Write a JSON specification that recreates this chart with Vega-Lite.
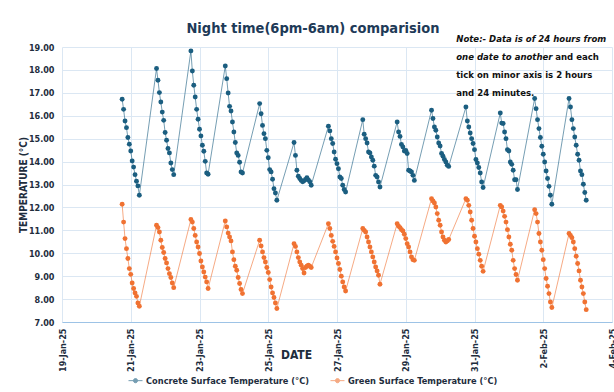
{
"$schema": "https://vega.github.io/schema/vega-lite/v6.json",
"autosize": "none",
"padding": {"left": 62, "top": 47, "right": 2, "bottom": 70},
"width": 550,
"height": 275,
"background": "white",
"title": {"text": "Night time(6pm-6am) comparision", "font": "DejaVu Sans Condensed, Roboto, sans-serif", "fontSize": 14.5, "fontWeight": "bold", "color": "#1e3a57", "anchor": "middle", "frame": "group", "dx": -24, "dy": 15, "offset": 12},
"config": {"view": {"stroke": null}, "font": "DejaVu Sans Condensed, Roboto, sans-serif"},
"resolve": {"axis": {"x": "independent"}},
"data": {"values": [
{"t":"2025-01-20T18:00","c":16.72,"g":12.14},{"t":"2025-01-20T19:00","c":16.28,"g":11.36},{"t":"2025-01-20T20:00","c":15.77,"g":10.64},{"t":"2025-01-20T21:00","c":15.48,"g":10.20},{"t":"2025-01-20T22:00","c":15.05,"g":9.77},{"t":"2025-01-20T23:00","c":14.76,"g":9.33},{"t":"2025-01-21T00:00","c":14.46,"g":9.08},{"t":"2025-01-21T01:00","c":14.03,"g":8.70},{"t":"2025-01-21T02:00","c":13.76,"g":8.46},{"t":"2025-01-21T03:00","c":13.43,"g":8.27},{"t":"2025-01-21T04:00","c":13.14,"g":8.12},{"t":"2025-01-21T05:00","c":12.94,"g":7.83},{"t":"2025-01-21T06:00","c":12.53,"g":7.69},
{"t":"2025-01-21T18:00","c":18.06,"g":11.22},{"t":"2025-01-21T19:00","c":17.55,"g":11.12},{"t":"2025-01-21T20:00","c":17.01,"g":10.93},{"t":"2025-01-21T21:00","c":16.60,"g":10.57},{"t":"2025-01-21T22:00","c":16.16,"g":10.25},{"t":"2025-01-21T23:00","c":15.80,"g":10.03},{"t":"2025-01-22T00:00","c":15.27,"g":9.77},{"t":"2025-01-22T01:00","c":14.93,"g":9.58},{"t":"2025-01-22T02:00","c":14.57,"g":9.33},{"t":"2025-01-22T03:00","c":14.38,"g":9.11},{"t":"2025-01-22T04:00","c":13.94,"g":8.94},{"t":"2025-01-22T05:00","c":13.65,"g":8.70},{"t":"2025-01-22T06:00","c":13.43,"g":8.50},
{"t":"2025-01-22T18:00","c":18.83,"g":11.47},{"t":"2025-01-22T19:00","c":17.95,"g":11.36},{"t":"2025-01-22T20:00","c":17.33,"g":11.08},{"t":"2025-01-22T21:00","c":16.82,"g":10.78},{"t":"2025-01-22T22:00","c":16.28,"g":10.49},{"t":"2025-01-22T23:00","c":15.85,"g":10.27},{"t":"2025-01-23T00:00","c":15.41,"g":9.99},{"t":"2025-01-23T01:00","c":15.12,"g":9.66},{"t":"2025-01-23T02:00","c":14.71,"g":9.40},{"t":"2025-01-23T03:00","c":14.45,"g":9.18},{"t":"2025-01-23T04:00","c":14.01,"g":8.96},{"t":"2025-01-23T05:00","c":13.50,"g":8.75},{"t":"2025-01-23T06:00","c":13.45,"g":8.46},
{"t":"2025-01-23T18:00","c":18.17,"g":11.41},{"t":"2025-01-23T19:00","c":17.62,"g":11.15},{"t":"2025-01-23T20:00","c":16.99,"g":10.88},{"t":"2025-01-23T21:00","c":16.41,"g":10.71},{"t":"2025-01-23T22:00","c":16.21,"g":10.54},{"t":"2025-01-23T23:00","c":15.73,"g":10.06},{"t":"2025-01-24T00:00","c":15.29,"g":9.72},{"t":"2025-01-24T01:00","c":14.83,"g":9.43},{"t":"2025-01-24T02:00","c":14.38,"g":9.26},{"t":"2025-01-24T03:00","c":14.27,"g":8.94},{"t":"2025-01-24T04:00","c":13.97,"g":8.68},{"t":"2025-01-24T05:00","c":13.55,"g":8.42},{"t":"2025-01-24T06:00","c":13.50,"g":8.24},
{"t":"2025-01-24T18:00","c":16.53,"g":10.57},{"t":"2025-01-24T19:00","c":16.09,"g":10.32},{"t":"2025-01-24T20:00","c":15.58,"g":10.06},{"t":"2025-01-24T21:00","c":15.22,"g":9.81},{"t":"2025-01-24T22:00","c":15.00,"g":9.62},{"t":"2025-01-24T23:00","c":14.49,"g":9.38},{"t":"2025-01-25T00:00","c":14.17,"g":9.16},{"t":"2025-01-25T01:00","c":13.65,"g":8.85},{"t":"2025-01-25T02:00","c":13.55,"g":8.53},{"t":"2025-01-25T03:00","c":13.23,"g":8.27},{"t":"2025-01-25T04:00","c":12.82,"g":8.07},{"t":"2025-01-25T05:00","c":12.63,"g":7.83},{"t":"2025-01-25T06:00","c":12.31,"g":7.59},
{"t":"2025-01-25T18:00","c":14.83,"g":10.42},{"t":"2025-01-25T19:00","c":14.27,"g":10.30},{"t":"2025-01-25T20:00","c":13.62,"g":10.06},{"t":"2025-01-25T21:00","c":13.36,"g":9.81},{"t":"2025-01-25T22:00","c":13.26,"g":9.62},{"t":"2025-01-25T23:00","c":13.18,"g":9.48},{"t":"2025-01-26T00:00","c":13.12,"g":9.33},{"t":"2025-01-26T01:00","c":13.16,"g":9.14},{"t":"2025-01-26T02:00","c":13.22,"g":9.38},{"t":"2025-01-26T03:00","c":13.30,"g":9.43},{"t":"2025-01-26T04:00","c":13.20,"g":9.48},{"t":"2025-01-26T05:00","c":13.12,"g":9.43},{"t":"2025-01-26T06:00","c":12.97,"g":9.38},
{"t":"2025-01-26T18:00","c":15.54,"g":11.29},{"t":"2025-01-26T19:00","c":15.34,"g":11.08},{"t":"2025-01-26T20:00","c":15.00,"g":10.78},{"t":"2025-01-26T21:00","c":14.79,"g":10.52},{"t":"2025-01-26T22:00","c":14.42,"g":10.30},{"t":"2025-01-26T23:00","c":14.10,"g":10.06},{"t":"2025-01-27T00:00","c":13.91,"g":9.79},{"t":"2025-01-27T01:00","c":13.69,"g":9.55},{"t":"2025-01-27T02:00","c":13.33,"g":9.29},{"t":"2025-01-27T03:00","c":13.26,"g":9.00},{"t":"2025-01-27T04:00","c":12.97,"g":8.75},{"t":"2025-01-27T05:00","c":12.78,"g":8.53},{"t":"2025-01-27T06:00","c":12.67,"g":8.35},
{"t":"2025-01-27T18:00","c":15.83,"g":11.08},{"t":"2025-01-27T19:00","c":15.19,"g":11.00},{"t":"2025-01-27T20:00","c":15.00,"g":10.93},{"t":"2025-01-27T21:00","c":14.81,"g":10.71},{"t":"2025-01-27T22:00","c":14.42,"g":10.49},{"t":"2025-01-27T23:00","c":14.38,"g":10.27},{"t":"2025-01-28T00:00","c":14.20,"g":10.06},{"t":"2025-01-28T01:00","c":14.06,"g":9.84},{"t":"2025-01-28T02:00","c":13.80,"g":9.62},{"t":"2025-01-28T03:00","c":13.40,"g":9.40},{"t":"2025-01-28T04:00","c":13.33,"g":9.23},{"t":"2025-01-28T05:00","c":13.11,"g":9.04},{"t":"2025-01-28T06:00","c":12.89,"g":8.65},
{"t":"2025-01-28T18:00","c":15.73,"g":11.29},{"t":"2025-01-28T19:00","c":15.29,"g":11.18},{"t":"2025-01-28T20:00","c":15.10,"g":11.12},{"t":"2025-01-28T21:00","c":14.75,"g":11.03},{"t":"2025-01-28T22:00","c":14.64,"g":10.97},{"t":"2025-01-28T23:00","c":14.46,"g":10.83},{"t":"2025-01-29T00:00","c":14.49,"g":10.64},{"t":"2025-01-29T01:00","c":14.35,"g":10.42},{"t":"2025-01-29T02:00","c":13.62,"g":10.27},{"t":"2025-01-29T03:00","c":13.59,"g":10.06},{"t":"2025-01-29T04:00","c":13.55,"g":9.84},{"t":"2025-01-29T05:00","c":13.40,"g":9.72},{"t":"2025-01-29T06:00","c":13.18,"g":9.69},
{"t":"2025-01-29T18:00","c":16.24,"g":12.38},{"t":"2025-01-29T19:00","c":15.88,"g":12.28},{"t":"2025-01-29T20:00","c":15.51,"g":12.19},{"t":"2025-01-29T21:00","c":15.37,"g":12.02},{"t":"2025-01-29T22:00","c":15.07,"g":11.73},{"t":"2025-01-29T23:00","c":14.81,"g":11.44},{"t":"2025-01-30T00:00","c":14.68,"g":11.22},{"t":"2025-01-30T01:00","c":14.35,"g":10.93},{"t":"2025-01-30T02:00","c":14.23,"g":10.71},{"t":"2025-01-30T03:00","c":14.09,"g":10.57},{"t":"2025-01-30T04:00","c":13.98,"g":10.49},{"t":"2025-01-30T05:00","c":13.84,"g":10.54},{"t":"2025-01-30T06:00","c":13.79,"g":10.60},
{"t":"2025-01-30T18:00","c":16.38,"g":12.38},{"t":"2025-01-30T19:00","c":15.77,"g":12.31},{"t":"2025-01-30T20:00","c":15.51,"g":12.09},{"t":"2025-01-30T21:00","c":15.25,"g":11.80},{"t":"2025-01-30T22:00","c":15.00,"g":11.44},{"t":"2025-01-30T23:00","c":14.79,"g":11.08},{"t":"2025-01-31T00:00","c":14.52,"g":10.74},{"t":"2025-01-31T01:00","c":14.09,"g":10.49},{"t":"2025-01-31T02:00","c":13.94,"g":10.20},{"t":"2025-01-31T03:00","c":13.74,"g":9.96},{"t":"2025-01-31T04:00","c":13.50,"g":9.69},{"t":"2025-01-31T05:00","c":13.11,"g":9.43},{"t":"2025-01-31T06:00","c":12.87,"g":9.21},
{"t":"2025-01-31T18:00","c":16.12,"g":12.09},{"t":"2025-01-31T19:00","c":15.68,"g":12.02},{"t":"2025-01-31T20:00","c":15.66,"g":11.84},{"t":"2025-01-31T21:00","c":15.29,"g":11.61},{"t":"2025-01-31T22:00","c":15.00,"g":11.36},{"t":"2025-01-31T23:00","c":14.52,"g":11.03},{"t":"2025-02-01T00:00","c":14.46,"g":10.71},{"t":"2025-02-01T01:00","c":13.98,"g":10.39},{"t":"2025-02-01T02:00","c":13.88,"g":10.13},{"t":"2025-02-01T03:00","c":13.62,"g":9.69},{"t":"2025-02-01T04:00","c":13.21,"g":9.33},{"t":"2025-02-01T05:00","c":13.21,"g":9.07},{"t":"2025-02-01T06:00","c":12.78,"g":8.82},
{"t":"2025-02-01T18:00","c":16.75,"g":11.90},{"t":"2025-02-01T19:00","c":16.31,"g":11.73},{"t":"2025-02-01T20:00","c":15.83,"g":11.36},{"t":"2025-02-01T21:00","c":15.44,"g":10.86},{"t":"2025-02-01T22:00","c":15.05,"g":10.49},{"t":"2025-02-01T23:00","c":14.67,"g":10.13},{"t":"2025-02-02T00:00","c":14.32,"g":9.72},{"t":"2025-02-02T01:00","c":13.98,"g":9.33},{"t":"2025-02-02T02:00","c":13.59,"g":8.90},{"t":"2025-02-02T03:00","c":13.26,"g":8.56},{"t":"2025-02-02T04:00","c":12.92,"g":8.24},{"t":"2025-02-02T05:00","c":12.53,"g":7.87},{"t":"2025-02-02T06:00","c":12.14,"g":7.63},
{"t":"2025-02-02T18:00","c":16.75,"g":10.86},{"t":"2025-02-02T19:00","c":16.38,"g":10.78},{"t":"2025-02-02T20:00","c":15.83,"g":10.68},{"t":"2025-02-02T21:00","c":15.44,"g":10.49},{"t":"2025-02-02T22:00","c":15.07,"g":10.20},{"t":"2025-02-02T23:00","c":14.71,"g":9.87},{"t":"2025-02-03T00:00","c":14.32,"g":9.55},{"t":"2025-02-03T01:00","c":14.06,"g":9.23},{"t":"2025-02-03T02:00","c":13.59,"g":8.82},{"t":"2025-02-03T03:00","c":13.43,"g":8.53},{"t":"2025-02-03T04:00","c":13.01,"g":8.24},{"t":"2025-02-03T05:00","c":12.65,"g":7.87},{"t":"2025-02-03T06:00","c":12.31,"g":7.54}
]},
"layer": [
  {"mark": {"type": "line", "strokeWidth": 1, "opacity": 0.6},
   "encoding": {
     "x": {"field": "t", "type": "temporal",
       "scale": {"domain": [{"year": 2025, "month": 1, "date": 19}, {"year": 2025, "month": 2, "date": 4}]},
       "axis": {"orient": "bottom",
         "title": "DATE", "titleFontSize": 12, "titleFontWeight": "bold", "titleColor": "#1e2d3d",
         "titleX": 234, "titleY": 32, "titleBaseline": "middle", "titleAlign": "center",
         "values": [{"year": 2025, "month": 1, "date": 19}, {"year": 2025, "month": 1, "date": 21}, {"year": 2025, "month": 1, "date": 23}, {"year": 2025, "month": 1, "date": 25}, {"year": 2025, "month": 1, "date": 27}, {"year": 2025, "month": 1, "date": 29}, {"year": 2025, "month": 1, "date": 31}, {"year": 2025, "month": 2, "date": 2}, {"year": 2025, "month": 2, "date": 4}],
         "tickCount": 20,
         "format": "%-d-%b-%y", "labelAngle": -90, "labelOverlap": false, "labelBound": false, "labelFlush": false,
         "labelFontSize": 9, "labelFontWeight": "bold", "labelColor": "#1e2d3d", "labelPadding": 6,
         "grid": true, "gridColor": "#dbe7f3", "domain": false, "ticks": false}},
     "y": {"field": "c", "type": "quantitative",
      "scale": {"domain": [7, 19], "nice": false, "zero": false},
      "axis": {"title": "TEMPERATURE (°C)", "titleFontSize": 10, "titleFontWeight": "bold", "titleColor": "#1e2d3d", "titlePadding": 0,
        "values": [7,8,9,10,11,12,13,14,15,16,17,18,19], "tickCount": 20, "format": ".2f", "labelOverlap": false,
        "labelFontSize": 9, "labelFontWeight": "bold", "labelColor": "#1e2d3d", "labelPadding": 8,
        "grid": true, "gridColor": "#dbe7f3", "domain": false, "ticks": false}},
     "color": {"datum": "Concrete Surface Temperature (°C)", "type": "nominal",
       "scale": {"domain": ["Concrete Surface Temperature (°C)", "Green Surface Temperature (°C)"], "range": ["#1b5e80", "#f07232"]},
       "legend": {"orient": "none", "legendX": 66, "legendY": 326, "direction": "horizontal", "title": null,
         "symbolType": "M-1,0L1,0M-0.3,0A0.3,0.3 0 1,0 0.3,0A0.3,0.3 0 1,0 -0.3,0Z", "symbolSize": 196, "symbolStrokeWidth": 1,
         "labelFontSize": 9.2, "labelFontWeight": "bold", "labelColor": "#1e2d3d", "labelLimit": 400, "columnPadding": 18, "labelOffset": 3,
         "encode": {"symbols": {"update": {"fill": {"scale": "color", "field": "value"}, "stroke": {"scale": "color", "field": "value"}, "strokeWidth": {"value": 1}, "opacity": {"value": 1}}}}}}}},
  {"mark": {"type": "point", "filled": true, "size": 24, "opacity": 1},
   "encoding": {
     "x": {"field": "t", "type": "temporal",
       "axis": {"orient": "bottom", "title": null, "labels": false, "grid": false,
         "values": {"expr": "sequence(datetime(2025,0,19), datetime(2025,1,4) + 1, 8640000)"}, "tickCount": 400,
         "domain": true, "domainColor": "#9dc3e6", "ticks": true, "tickColor": "#9dc3e6", "tickSize": 3, "tickWidth": 1}},
     "y": {"field": "c", "type": "quantitative"},
     "color": {"datum": "Concrete Surface Temperature (°C)", "type": "nominal"}}},
  {"mark": {"type": "line", "strokeWidth": 1, "opacity": 0.6},
   "encoding": {
     "x": {"field": "t", "type": "temporal",
       "axis": {"orient": "bottom", "title": null, "labels": false, "grid": false,
         "values": {"expr": "sequence(datetime(2025,0,19), datetime(2025,1,4) + 1, 8640000)"}, "tickCount": 400,
         "domain": false, "ticks": true, "tickColor": "#9dc3e6", "tickSize": -3, "tickWidth": 1}},
     "y": {"field": "g", "type": "quantitative"},
     "color": {"datum": "Green Surface Temperature (°C)", "type": "nominal"}}},
  {"mark": {"type": "point", "filled": true, "size": 24, "opacity": 1},
   "encoding": {
     "x": {"field": "t", "type": "temporal", "axis": null},
     "y": {"field": "g", "type": "quantitative"},
     "color": {"datum": "Green Surface Temperature (°C)", "type": "nominal"}}},
  {"data": {"values": [{}]},
   "mark": {"type": "text", "align": "left", "baseline": "middle", "fontSize": 9.5, "fontWeight": "bold", "fontStyle": "italic", "color": "#111111", "lineHeight": 18},
   "encoding": {"x": {"datum": {"year": 2025, "month": 1, "date": 30, "hours": 11, "minutes": 15}, "axis": null}, "y": {"datum": 19.36}, "text": {"value": ["Note:- Data is of 24 hours from", "one date to another"]}}},
  {"data": {"values": [{}]},
   "mark": {"type": "text", "align": "left", "baseline": "middle", "fontSize": 9.5, "fontWeight": "bold", "color": "#111111", "dx": 99, "dy": 18},
   "encoding": {"x": {"datum": {"year": 2025, "month": 1, "date": 30, "hours": 11, "minutes": 15}, "axis": null}, "y": {"datum": 19.36}, "text": {"value": "and each"}}},
  {"data": {"values": [{}]},
   "mark": {"type": "text", "align": "left", "baseline": "middle", "fontSize": 9.5, "fontWeight": "bold", "color": "#111111", "lineHeight": 18, "dy": 36},
   "encoding": {"x": {"datum": {"year": 2025, "month": 1, "date": 30, "hours": 11, "minutes": 15}, "axis": null}, "y": {"datum": 19.36}, "text": {"value": ["tick on minor axis is 2 hours", "and 24 minutes."]}}}
]
}
